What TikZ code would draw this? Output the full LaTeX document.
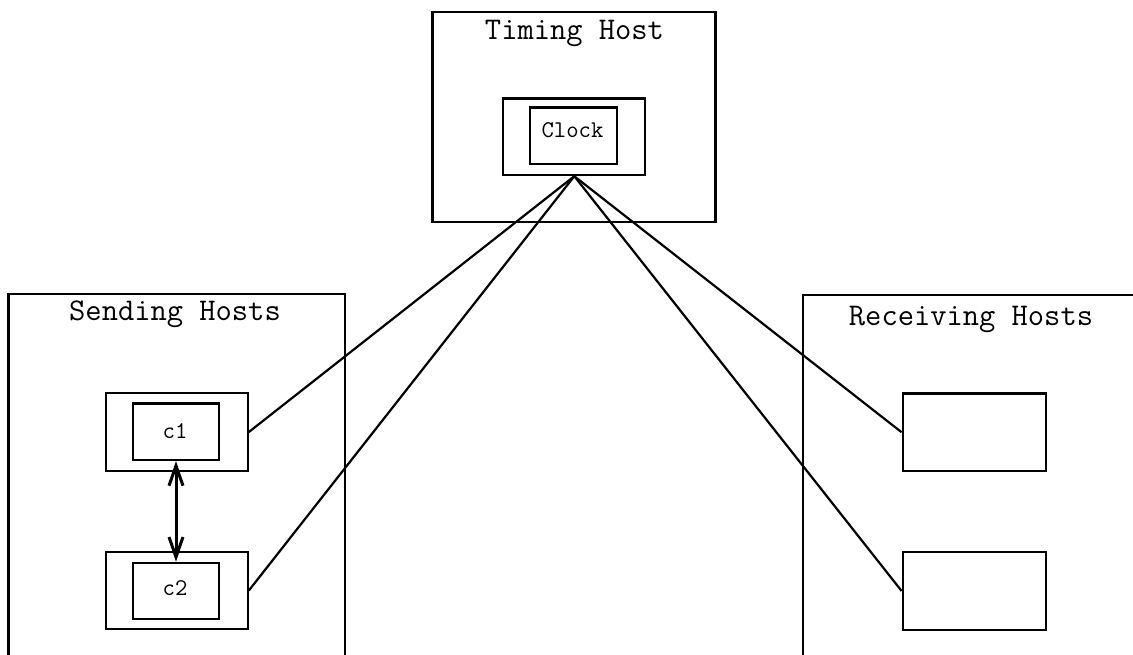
\documentclass[tikz,border=0pt]{standalone}
\usetikzlibrary{arrows.meta}
\tikzset{
  box/.style={draw, line width=2.3pt, inner sep=0pt, rectangle},
  title/.style={font=\ttfamily\fontsize{31.6}{34}\selectfont, anchor=base, inner sep=0pt},
  lbl/.style={font=\ttfamily\fontsize{24}{27}\selectfont, anchor=base, inner sep=0pt},
  link/.style={line width=2.2pt},
  biarrow/.style={line width=3pt, {Straight Barb[length=20pt,width=14pt]}-{Straight Barb[length=20pt,width=14pt]}}
}
\begin{document}
\begin{tikzpicture}[x=1pt,y=-1pt]
\useasboundingbox (0,0) rectangle (1133,654);
\clip (0,0) rectangle (1133,654);
% containers
\node[box, minimum width=283pt, minimum height=210pt] (timing) at (574,116.7) {};
\node[box, minimum width=336.7pt, minimum height=376pt] (send) at (176.7,482) {};
\node[box, minimum width=342pt, minimum height=375pt] (recv) at (974.3,482.5) {};
% titles
\node[title] (ttiming) at (574.5,39.5) {Timing Host};
\node[title] (tsend) at (175,320) {Sending Hosts};
\node[title] (trecv) at (971,325) {Receiving Hosts};
% clock
\node[box, minimum width=142pt, minimum height=76.7pt] (clko) at (574.3,136.7) {};
\node[box, minimum width=86.7pt, minimum height=56.7pt] (clki) at (573.3,135.7) {};
\node[lbl] (tclk) at (572.5,137.3) {Clock};
% senders
\node[box, minimum width=142pt, minimum height=77.4pt] (c1o) at (176.7,432) {};
\node[box, minimum width=86.6pt, minimum height=56.7pt] (c1i) at (176,431.7) {};
\node[lbl] (tc1) at (175,438.3) {c1};
\node[box, minimum width=142pt, minimum height=77.6pt] (c2o) at (176.7,590.5) {};
\node[box, minimum width=86.6pt, minimum height=56.6pt] (c2i) at (176,591) {};
\node[lbl] (tc2) at (175,595) {c2};
% receivers
\node[box, minimum width=143pt, minimum height=77.7pt] (r1) at (974.2,432.2) {};
\node[box, minimum width=143pt, minimum height=78.3pt] (r2) at (974.2,590.9) {};
% connectors
\draw[link] (clko.south) -- (c1o.east);
\draw[link] (clko.south) -- (c2o.east);
\draw[link] (clko.south) -- (r1.west);
\draw[link] (clko.south) -- (r2.west);
\draw[biarrow] (c1i.south) -- (c2i.north);
\end{tikzpicture}
\end{document}
